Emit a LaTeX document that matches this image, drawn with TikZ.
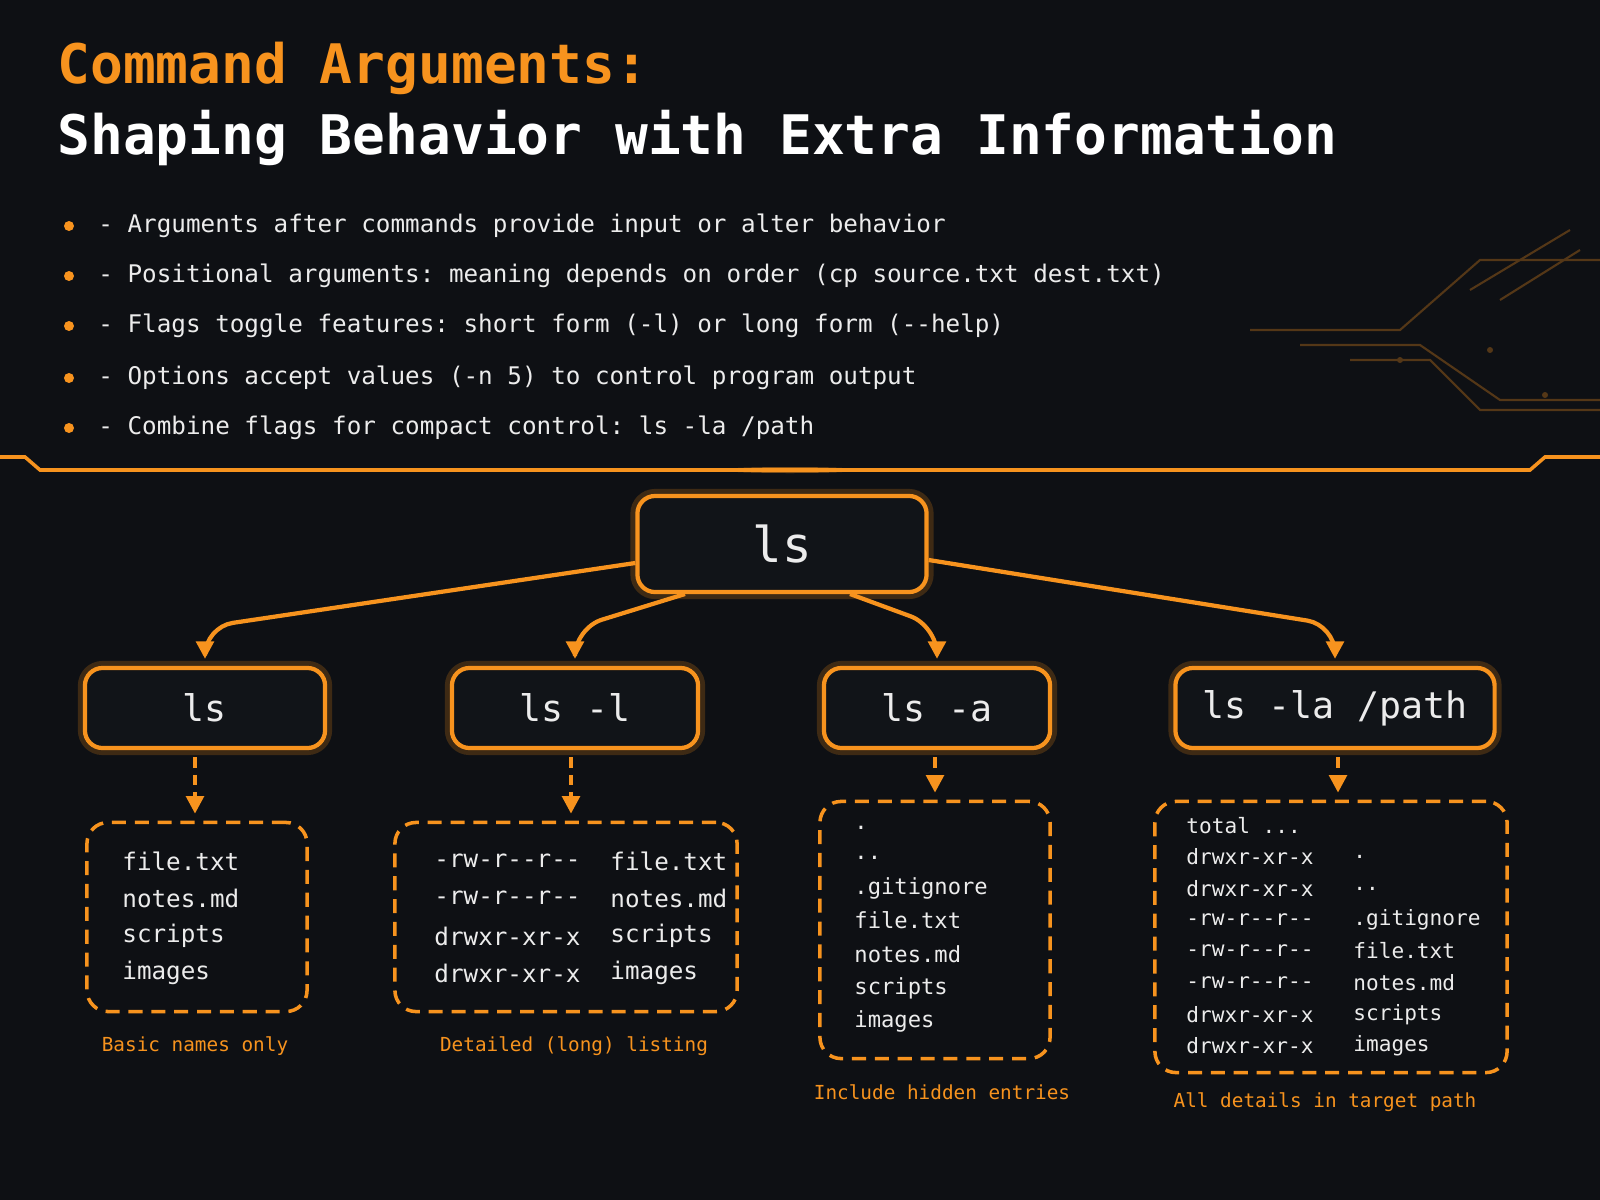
\documentclass[tikz,border=0pt]{standalone}
\usepackage{fontspec}
\setmonofont{DejaVu Sans Mono}
\usetikzlibrary{arrows.meta}
\definecolor{bg}{HTML}{0E1014}
\definecolor{org}{HTML}{F7931E}
\definecolor{boxbg}{HTML}{111418}
\definecolor{txt}{HTML}{ECECEC}
\begin{document}
\begin{tikzpicture}[x=0.01cm,y=-0.01cm,
  glow/.style={draw=org, line width=1.2pt, rounded corners=5pt, fill=boxbg,
    preaction={draw=org!70!black, line width=4pt, opacity=0.3}},
  cmd/.style={font=\ttfamily\fontsize{10.4pt}{12pt}\selectfont, text=txt},
  dbox/.style={draw=org, line width=1pt, dash pattern=on 4pt off 2.5pt, rounded corners=6pt},
  lst/.style={font=\ttfamily\fontsize{6.9pt}{8pt}\selectfont, text=txt, anchor=west},
  lsts/.style={font=\ttfamily\fontsize{6pt}{7pt}\selectfont, text=txt, anchor=west},
  captxt/.style={font=\ttfamily\fontsize{5.5pt}{6pt}\selectfont, text=org},
  con/.style={draw=org, line width=1.2pt, -{Triangle[length=5pt,width=5pt]}, rounded corners=8pt, shorten >=2pt},
  dcon/.style={draw=org, line width=1.1pt, dash pattern=on 3pt off 2pt, -{Triangle[length=5pt,width=5pt]}, shorten >=2pt, shorten <=2pt},
  bul/.style={font=\ttfamily\fontsize{6.9pt}{8pt}\selectfont, text=txt, anchor=west}]
\fill[bg] (0,0) rectangle (1600,1200);
\useasboundingbox (0,0) rectangle (1600,1200);
% decorative circuit lines
\begin{scope}[draw=org!30!bg, line width=0.6pt]
\draw (1250,330) -- (1400,330) -- (1480,260) -- (1600,260);
\draw (1300,345) -- (1420,345) -- (1500,400) -- (1600,400);
\draw (1350,360) -- (1430,360) -- (1480,410) -- (1600,410);
\draw (1470,290) -- (1570,230);
\draw (1500,300) -- (1580,250);
\fill[org!30!bg] (1400,360) circle (3) (1490,350) circle (3) (1545,395) circle (3);
\end{scope}
% title
\node[anchor=west, text=org, font=\ttfamily\bfseries\fontsize{15.5pt}{18pt}\selectfont] (t1) at (45,68) {Command Arguments:};
\node[anchor=west, text=white, font=\ttfamily\bfseries\fontsize{15.5pt}{18pt}\selectfont] (t2) at (45,138) {Shaping Behavior with Extra Information};
% bullets
\foreach \y/\s [count=\i] in {226/{- Arguments after commands provide input or alter behavior},
  276/{- Positional arguments: meaning depends on order (cp source.txt dest.txt)},
  326/{- Flags toggle features: short form (-l) or long form (-{}-help)},
  378/{- Options accept values (-n 5) to control program output},
  428/{- Combine flags for compact control: ls -la /path}}{
  \fill[org] (69,\y) circle (5);
  \node[bul] (b\i) at (86,\y) {\s};
}
% separator
\draw[org, line width=1pt] (0,457) -- (25,457) -- (40,470) -- (1530,470) -- (1545,457) -- (1600,457);
\fill[org, opacity=0.5] (790,470) ellipse (70 and 3);
% nodes
\node[glow, cmd, font=\ttfamily\fontsize{14pt}{16pt}\selectfont, minimum width=2.89cm, minimum height=0.96cm] (root) at (782,544) {ls};
\node[glow, cmd, minimum width=2.40cm, minimum height=0.80cm] (c1) at (205,708) {ls};
\node[glow, cmd, minimum width=2.46cm, minimum height=0.80cm] (c2) at (575,708) {ls -l};
\node[glow, cmd, minimum width=2.26cm, minimum height=0.80cm] (c3) at (937,708) {ls -a};
\node[glow, cmd, minimum width=3.19cm, minimum height=0.80cm] (c4) at (1335,708) {ls -la /path};
% dashed boxes
\node[dbox, minimum width=2.20cm, minimum height=1.89cm] (d1) at (197,917) {};
\node[dbox, minimum width=3.42cm, minimum height=1.89cm] (d2) at (566,917) {};
\node[dbox, minimum width=2.30cm, minimum height=2.57cm] (d3) at (935,930) {};
\node[dbox, minimum width=3.52cm, minimum height=2.71cm] (d4) at (1331,937) {};
% connectors
\draw[con] (root.west|-0,563) -- (c1.north|-0,627) -- (c1.north);
\draw[con] (685,594) -- (c2.north|-0,628) -- (c2.north);
\draw[con] (850,594) -- (c3.north|-0,626) -- (c3.north);
\draw[con] (root.east|-0,560) -- (c4.north|-0,625) -- (c4.north);
\draw[dcon] (c1.south-|195,0) -- (d1.north-|195,0);
\draw[dcon] (c2.south-|571,0) -- (d2.north-|571,0);
\draw[dcon] (c3.south-|935,0) -- (d3.north);
\draw[dcon] (c4.south-|1338,0) -- (d4.north-|1338,0);
% lists
\foreach \y/\s [count=\i] in {861/file.txt,898/notes.md,936/scripts,973/images}
  \node[lst] (l1\i) at (110,\y) {\s};
\foreach \y/\a/\b [count=\i] in {861/-rw-r-{}-r-{}-/file.txt,898/-rw-r-{}-r-{}-/notes.md,936/drwxr-xr-x/scripts,973/drwxr-xr-x/images}{
  \node[lst] (l2a\i) at (422,\y) {\a};
  \node[lst] (l2b\i) at (598,\y) {\b};
}
\foreach \y/\s [count=\i] in {828/.,858/..,888/.gitignore,920/file.txt,954/notes.md,988/scripts,1021/images}
  \node[lsts, font=\ttfamily\fontsize{6.3pt}{7pt}\selectfont] (l3\i) at (842,\y) {\s};
\node[lsts] (l4a0) at (1174,826) {total ...};
\foreach \y/\a/\b [count=\i] in {857/drwxr-xr-x/.,889/drwxr-xr-x/..,920/-rw-r-{}-r-{}-/.gitignore,951/-rw-r-{}-r-{}-/file.txt,983/-rw-r-{}-r-{}-/notes.md,1015/drwxr-xr-x/scripts,1046/drwxr-xr-x/images}{
  \node[lsts] (l4a\i) at (1174,\y) {\a};
  \node[lsts] (l4b\i) at (1341,\y) {\b};
}
% captions
\node[captxt] (p1) at (195,1046) {Basic names only};
\node[captxt] (p2) at (574,1046) {Detailed (long) listing};
\node[captxt] (p3) at (942,1092) {Include hidden entries};
\node[captxt] (p4) at (1325,1102) {All details in target path};
\end{tikzpicture}
\end{document}
